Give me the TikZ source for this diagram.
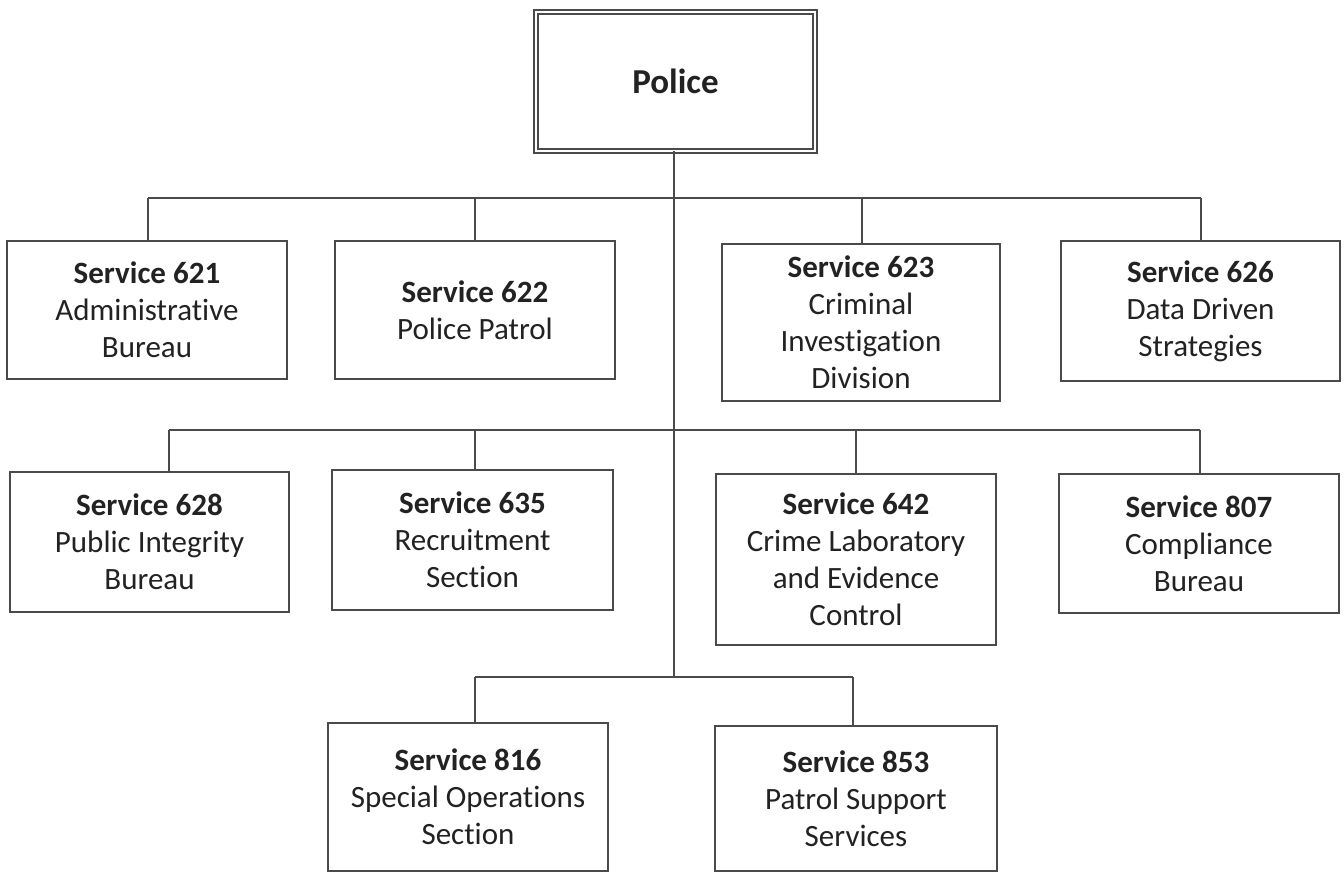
\documentclass[tikz,border=0pt]{standalone}
\usepackage{fontspec}
\setmainfont[Ligatures=NoCommon]{Carlito}
\definecolor{linec}{HTML}{4A4A4A}
\definecolor{textc}{HTML}{222222}
\begin{document}
\begin{tikzpicture}[x=1pt,y=-1pt,
  svc/.style={draw=linec, line width=1.8pt, rectangle, inner sep=0pt, outer sep=0pt,
    align=center, text=textc, font=\fontsize{31}{37}\selectfont, fill=white},
  conn/.style={draw=linec, line width=1.8pt},
  chief/.style={draw=linec, line width=2pt, double=white, double distance=2.5pt,
    rectangle, inner sep=0pt, outer sep=0pt, text=textc,
    font=\fontsize{35}{42}\selectfont\bfseries}]
\fill[white] (0,0) rectangle (1344,873);
\useasboundingbox (0,0) rectangle (1344,873);

\node[chief, minimum width=279pt, minimum height=139pt] (police) at (675.5,81.5) {Police};

\node[svc, minimum width=280pt, minimum height=138pt] (s621) at (147,310) {\textbf{Service 621}\\Administrative\\Bureau};
\node[svc, minimum width=280pt, minimum height=138pt] (s622) at (475,310) {\textbf{Service 622}\\Police Patrol};
\node[svc, minimum width=278pt, minimum height=157pt] (s623) at (861,322.5) {\textbf{Service 623}\\Criminal\\Investigation\\Division};
\node[svc, minimum width=279pt, minimum height=140pt] (s626) at (1200.5,311) {\textbf{Service 626}\\Data Driven\\Strategies};

\node[svc, minimum width=279pt, minimum height=140pt] (s628) at (149.5,542) {\textbf{Service 628}\\Public Integrity\\Bureau};
\node[svc, minimum width=281pt, minimum height=140pt] (s635) at (472.5,540) {\textbf{Service 635}\\Recruitment\\Section};
\node[svc, minimum width=280pt, minimum height=171pt] (s642) at (856,559.5) {\textbf{Service 642}\\Crime Laboratory\\and Evidence\\Control};
\node[svc, minimum width=280pt, minimum height=139pt] (s807) at (1199,543.5) {\textbf{Service 807}\\Compliance\\Bureau};

\node[svc, minimum width=280pt, minimum height=148pt] (s816) at (468,797) {\textbf{Service 816}\\Special Operations\\Section};
\node[svc, minimum width=282pt, minimum height=145pt] (s853) at (856,798.5) {\textbf{Service 853}\\Patrol Support\\Services};

\coordinate (t) at (674,677);
\coordinate (j621) at (148,198);
\coordinate (j622) at (475,198);
\coordinate (j623) at (862,198);
\coordinate (j626) at (1201,198);
\coordinate (j628) at (169,430);
\coordinate (j635) at (475,430);
\coordinate (j642) at (856,430);
\coordinate (j807) at (1200,430);
\coordinate (j816) at (475,677);
\coordinate (j853) at (853,677);

\draw[conn] (t |- police.south) -- (t);
\draw[conn] (j621) -- (j626);
\draw[conn] (j628) -- (j807);
\draw[conn] (j816) -- (j853);
\foreach \n in {621,622,623,626,628,635,642,807,816,853}
  \draw[conn] (j\n) -- (j\n |- s\n.north);
\end{tikzpicture}
\end{document}
